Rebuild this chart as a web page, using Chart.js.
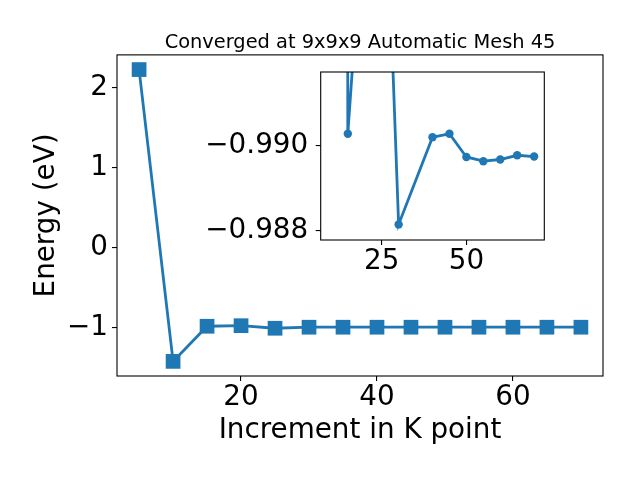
<!DOCTYPE html>
<html>
<head>
<meta charset="utf-8">
<script src="https://cdn.jsdelivr.net/npm/chart.js@4/dist/chart.umd.min.js"></script>
<style>
  body { margin: 0; background: #fff; }
  #wrap { position: relative; width: 640px; height: 480px; }
  #main { position: absolute; left: 0; top: 0; }
  #inset { position: absolute; left: 180px; top: 42px; }
</style>
</head>
<body>
<div id="wrap">
  <canvas id="main" width="640" height="480"></canvas>
  <canvas id="inset" width="380" height="258"></canvas>
</div>
<script>
// main series
const kPoints = [5, 10, 15, 20, 25, 30, 35, 40, 45, 50, 55, 60, 65, 70];
const energy = [2.23, -1.425, -0.985, -0.978, -1.01, -0.997, -0.997, -0.997, -0.997, -0.997, -0.997, -0.997, -0.997, -0.997];
const xTicks = [20, 40, 60];
const yTicks = [-1, 0, 1, 2];

// zoomed inset
const insetK = [10, 15, 20, 25, 30, 40, 45, 50, 55, 60, 65, 70];
const insetEnergy = [-1.425, -0.99029, -0.996, -0.9991, -0.98814, -0.99021, -0.99029, -0.98974, -0.98964, -0.98968, -0.98978, -0.98975];
const insetXTicks = [25, 50];
const insetYTicks = [-0.990, -0.988];

const blue = '#1f77b4';
Chart.defaults.font.family = "'DejaVu Sans', sans-serif";
Chart.defaults.color = '#000';

function minus(s) { return String(s).replace('-', '\u2212'); }

// white plot background + black frame like matplotlib axes
const framePlugin = {
    id: 'frame',
    beforeDatasetsDraw(chart) {
        const a = chart.chartArea;
        chart.ctx.save();
        chart.ctx.fillStyle = '#fff';
        chart.ctx.fillRect(a.left, a.top, a.right - a.left, a.bottom - a.top);
        chart.ctx.restore();
    },
    afterDraw(chart) {
        const a = chart.chartArea;
        const ctx = chart.ctx;
        ctx.save();
        ctx.strokeStyle = '#000';
        ctx.lineWidth = 1.1;
        ctx.strokeRect(a.left, a.top, a.right - a.left, a.bottom - a.top);
        ctx.restore();
    }
};

function tickGrid() {
    return { display: true, drawOnChartArea: false, drawTicks: true, tickLength: 5, color: '#000', lineWidth: 1.1 };
}

new Chart(document.getElementById('main'), {
    type: 'line',
    data: {
        datasets: [{
            data: kPoints.map((k, i) => ({ x: k, y: energy[i] })),
            borderColor: blue,
            backgroundColor: blue,
            borderWidth: 2.8,
            pointStyle: 'rect',
            pointRadius: 10.4,
            pointBorderWidth: 0,
            pointBackgroundColor: blue
        }]
    },
    options: {
        responsive: false,
        animation: false,
        layout: { padding: { left: 0, right: 37, top: 0, bottom: 33 } },
        plugins: {
            legend: { display: false },
            tooltip: { enabled: false },
            title: {
                display: true,
                text: 'Converged at 9x9x9 Automatic Mesh 45',
                fullSize: false,
                font: { size: 19.4, weight: 'normal' },
                color: '#000',
                padding: { top: 31.6, bottom: 0 }
            }
        },
        scales: {
            x: {
                type: 'linear',
                min: 1.75,
                max: 73.25,
                grid: tickGrid(),
                border: { display: false },
                afterBuildTicks: s => { s.ticks = xTicks.map(v => ({ value: v })); },
                afterFit: s => { s.height = 71; },
                ticks: { font: { size: 27.8 }, padding: 0, callback: v => minus(v) },
                title: { display: true, text: 'Increment in K point', font: { size: 27.8 }, padding: { top: 0, bottom: 0 } }
            },
            y: {
                type: 'linear',
                min: -1.608,
                max: 2.414,
                grid: tickGrid(),
                border: { display: false },
                afterBuildTicks: s => { s.ticks = yTicks.map(v => ({ value: v })); },
                afterFit: s => { s.width = 117; },
                ticks: { font: { size: 27.8 }, padding: 4, callback: v => minus(v) },
                title: { display: true, text: 'Energy (eV)', font: { size: 27.8 }, padding: { top: 30, bottom: 0 } }
            }
        }
    },
    plugins: [framePlugin]
});

new Chart(document.getElementById('inset'), {
    type: 'line',
    data: {
        datasets: [{
            data: insetK.map((k, i) => ({ x: k, y: insetEnergy[i] })),
            borderColor: blue,
            backgroundColor: blue,
            borderWidth: 2.8,
            pointStyle: 'circle',
            pointRadius: 4.2,
            pointBorderWidth: 0,
            pointBackgroundColor: blue
        }]
    },
    options: {
        responsive: false,
        animation: false,
        layout: { padding: { left: 0, right: 15.7, top: 30, bottom: 0 } },
        plugins: { legend: { display: false }, tooltip: { enabled: false } },
        scales: {
            x: {
                type: 'linear',
                min: 7,
                max: 73,
                grid: tickGrid(),
                border: { display: false },
                afterBuildTicks: s => { s.ticks = insetXTicks.map(v => ({ value: v })); },
                afterFit: s => { s.height = 60; },
                ticks: { font: { size: 27.8 }, padding: 0, callback: v => minus(v) }
            },
            y: {
                type: 'linear',
                reverse: true,
                min: -0.991756,
                max: -0.98777,
                grid: tickGrid(),
                border: { display: false },
                afterBuildTicks: s => { s.ticks = insetYTicks.map(v => ({ value: v })); },
                afterFit: s => { s.width = 140.7; },
                ticks: { font: { size: 27.8 }, padding: 7.5, callback: v => minus(Number(v).toFixed(3)) }
            }
        }
    },
    plugins: [framePlugin]
});
</script>
</body>
</html>
